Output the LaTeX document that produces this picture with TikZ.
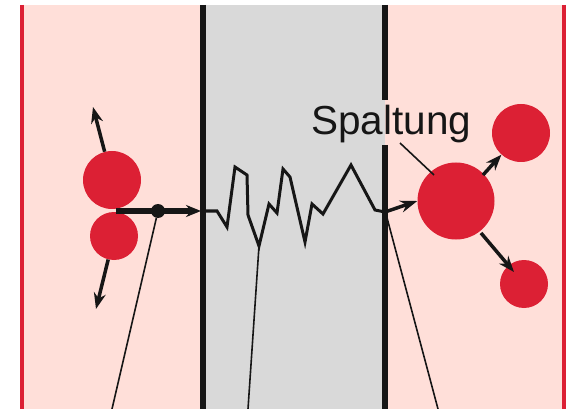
\documentclass[tikz,border=0pt]{standalone}
\usepackage{fontspec}
\setmainfont{Liberation Sans}
\usetikzlibrary{arrows.meta}
\definecolor{plasma}{HTML}{FFDFD9}
\definecolor{barrier}{HTML}{D9D9D9}
\definecolor{nucleus}{HTML}{DC2034}
\definecolor{ink}{HTML}{161616}
\begin{document}
\begin{tikzpicture}[x=1pt,y=-1pt,
  atom/.style={circle, fill=nucleus, inner sep=0pt},
  wall/.style={ink, line width=6pt},
  edge/.style={nucleus, line width=3.5pt},
  push/.style={ink, line width=3.5pt, -{Stealth[length=16pt,width=12pt]}},
  leader/.style={ink, line width=1.6pt},
  path/.style={ink, line width=3pt, line join=miter}]
\useasboundingbox (0,0) rectangle (576,409);
\fill[white] (0,0) rectangle (576,409);
% regions: plasma | barrier | plasma
\fill[plasma] (22,5) rectangle (203,409);
\fill[barrier] (203,5) rectangle (385,409);
\fill[plasma] (385,5) rectangle (564,409);
\draw[edge] (22,5) -- (22,409);
\draw[edge] (564,5) -- (564,409);
\draw[wall] (203,5) -- (203,409);
\draw[wall] (385,5) -- (385,100);
\draw[wall] (385,145) -- (385,409);
% incoming pair of nuclei
\node[atom, minimum size=58pt] (a1) at (112,180) {};
\node[atom, minimum size=48pt] (a2) at (114,236) {};
\coordinate (up) at (93,107);
\coordinate (down) at (96,309);
\draw[push] (a1) -- (up);
\draw[push] (a2) -- (down);
% tunnelling path through the barrier
\coordinate (start) at (116,211);
\node[circle, fill=ink, inner sep=0pt, minimum size=14pt] (dot) at (158,211) {};
\coordinate (win) at (201,211);
\draw[ink, line width=5pt, -{Stealth[length=15pt,width=12pt]}] (start) -- (win);
\coordinate (dip) at (259,246);
\coordinate (wout) at (385,212);
\draw[path] (205,211) -- (217,211) -- (227,227) -- (235,167) -- (247,175) -- (248,215)
  -- (dip) -- (269,204) -- (277,213) -- (283,169) -- (290,177) -- (305,242)
  -- (312,204) -- (323,214) -- (351,165) -- (375,210) -- (wout);
% fission on the far side
\node[atom, minimum size=77pt] (big) at (456,201) {};
\node[atom, minimum size=58pt] (f1) at (521,133) {};
\node[atom, minimum size=48pt] (f2) at (524,284) {};
\draw[ink, line width=3.5pt, -{Stealth[length=17pt,width=12pt]}] (wout) -- (big.west);
\draw[push] (big) ++(27,-26) -- (f1);
\draw[push] (481,233) -- (514,272);
% label
\node[font=\fontsize{40.5}{48}\selectfont, text=ink, anchor=base west, inner sep=0pt] (lab) at (311,135) {Spaltung};
\coordinate (labfoot) at (400,143);
\draw[leader] (labfoot) -- (434,175);
% leaders leaving the bottom edge
\coordinate (b1) at (112,409);
\coordinate (b2) at (248,409);
\coordinate (b3) at (438,409);
\draw[leader] (dot) -- (b1);
\draw[leader] (dip) -- (b2);
\draw[leader] (386,214) -- (b3);
\end{tikzpicture}
\end{document}
